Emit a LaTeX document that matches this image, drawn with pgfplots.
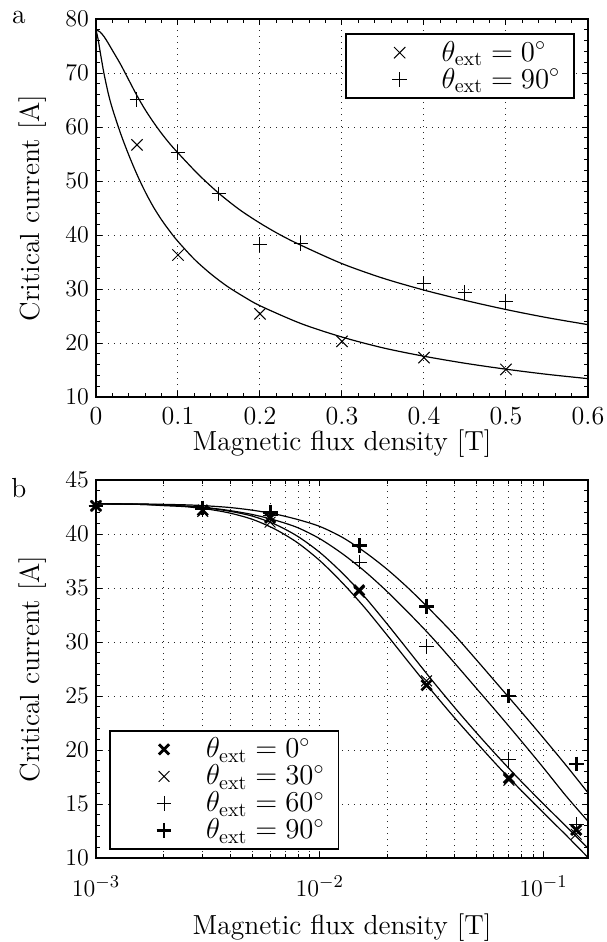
\documentclass[border=0pt]{standalone}
\usepackage{pgfplots}
\pgfplotsset{compat=1.18}
\pgfplotsset{
  common/.style={
    scale only axis, width=246pt, height=189pt,
    axis line style={line width=0.8pt},
    every tick/.style={black, line width=0.5pt},
    major tick length=3pt, minor tick length=2pt,
    grid style={black!85, line width=0.5pt, dash pattern=on 0.5pt off 2.5pt},
    minor grid style={black!85, line width=0.5pt, dash pattern=on 0.5pt off 2.5pt},
    clip mode=individual,
    label style={font=\fontsize{13.8}{16}\selectfont},
    legend cell align=left,
    legend style={draw=black, line width=0.8pt, inner xsep=4pt, inner ysep=2.5pt,
      font=\fontsize{14.3}{17}\selectfont,
      nodes={inner xsep=3pt, inner ysep=1pt}},
    legend image code/.code={%
      \pgfpathmoveto{\pgfqpoint{0pt}{0pt}}\pgfpathlineto{\pgfqpoint{41pt}{0pt}}\pgfusepath{discard}%
      \draw[##1, only marks] plot coordinates {(23pt,0pt)};},
  },
  fit/.style={no markers, smooth, black, line width=0.6pt, forget plot},
  mk/.style={only marks, black, mark options={solid, line width=#1}},
}
\begin{document}
\begin{tikzpicture}[font=\fontsize{13}{15.6}\selectfont]
\begin{axis}[common, at={(0,0)}, anchor=south west,
  xmin=0, xmax=0.6, ymin=10, ymax=80,
  xtick={0,0.1,0.2,0.3,0.4,0.5,0.6}, ytick={10,20,30,40,50,60,70,80},
  xticklabels={0,0.1,0.2,0.3,0.4,0.5,0.6},
  xticklabel style={yshift=-1.5pt},
  minor x tick num=4, minor y tick num=4,
  xmajorgrids, ymajorgrids,
  xlabel={Magnetic flux density [T]}, ylabel={Critical current [A]},
  xlabel style={at={(axis description cs:0.5,-0.122)}, anchor=center},
  ylabel style={at={(axis description cs:-0.129,0.5)}, anchor=center},
  legend style={at={(0.9736,0.962)}, anchor=north east},
]
\addplot[fit] coordinates {(0,78.0) (0.0025,76.3) (0.005,74.0) (0.0075,71.8) (0.01,69.7) (0.015,66.2) (0.02,63.4) (0.03,58.8) (0.04,54.8) (0.05,51.2) (0.06,48.0) (0.07,45.2) (0.08,42.8) (0.09,40.7) (0.1,38.8) (0.12,35.5) (0.14,32.8) (0.16,30.5) (0.18,28.6) (0.2,26.9) (0.25,23.6) (0.3,21.1) (0.35,19.1) (0.4,17.55) (0.45,16.25) (0.5,15.15) (0.55,14.2) (0.6,13.4)};
\addplot[fit] coordinates {(0,78.0) (0.005,77.6) (0.01,76.7) (0.015,75.5) (0.02,74.2) (0.03,71.6) (0.04,68.7) (0.05,65.8) (0.06,63.2) (0.07,60.9) (0.08,58.8) (0.09,56.9) (0.1,55.2) (0.125,51.2) (0.15,47.7) (0.175,44.7) (0.2,42.2) (0.225,40.0) (0.25,38.1) (0.3,34.7) (0.35,32.0) (0.4,29.8) (0.45,27.9) (0.5,26.2) (0.55,24.7) (0.6,23.4)};
\addplot[mk=0.5pt, mark=x, mark size=4pt] coordinates {(0.05,56.7) (0.1,36.3) (0.2,25.4) (0.3,20.3) (0.4,17.3) (0.5,15.1)};
\addlegendentry{$\theta_{\mathrm{ext}} = 0^\circ$}
\addplot[mk=0.5pt, mark=+, mark size=3.7pt] coordinates {(0.05,65.1) (0.1,55.3) (0.15,47.6) (0.2,38.3) (0.25,38.5) (0.4,31.0) (0.45,29.4) (0.5,27.7)};
\addlegendentry{$\theta_{\mathrm{ext}} = 90^\circ$}
\node[font=\fontsize{13.8}{16}\selectfont] at (rel axis cs:-0.1565,1.005) {a};
\end{axis}

\begin{axis}[common, at={(0,-230.5pt)}, anchor=south west,
  xmode=log, log basis x=10, xmin=1e-3, xmax=0.158, ymin=10, ymax=45,
  xtick={1e-3,1e-2,1e-1},
  minor xtick={2e-3,3e-3,4e-3,5e-3,6e-3,7e-3,8e-3,9e-3,2e-2,3e-2,4e-2,5e-2,6e-2,7e-2,8e-2,9e-2},
  xticklabel style={yshift=-5.5pt},
  ytick={10,15,20,25,30,35,40,45}, minor y tick num=4,
  xmajorgrids, xminorgrids, ymajorgrids,
  xlabel={Magnetic flux density [T]}, ylabel={Critical current [A]},
  xlabel style={at={(axis description cs:0.5,-0.184)}, anchor=center},
  ylabel style={at={(axis description cs:-0.129,0.5)}, anchor=center},
  legend style={at={(0.027,0.022)}, anchor=south west},
]
% 90 deg fit
\addplot[fit] coordinates {(0.001,42.80) (0.0015849,42.78) (0.0025119,42.70) (0.0031623,42.60) (0.0039811,42.45) (0.0050119,42.20) (0.0063096,41.85) (0.0079433,41.35) (0.01,40.70) (0.012589,39.70) (0.015849,38.35) (0.019953,36.75) (0.025119,34.90) (0.031623,32.85) (0.039811,30.70) (0.050119,28.35) (0.063096,25.95) (0.079433,23.55) (0.1,21.10) (0.12589,18.60) (0.158,16.04)};
% 60 deg fit
\addplot[fit] coordinates {(0.001,42.79) (0.0015849,42.74) (0.0025119,42.585) (0.0031623,42.425) (0.0039811,42.165) (0.0050119,41.80) (0.0063096,41.285) (0.0079433,40.60) (0.01,39.565) (0.012589,38.19) (0.015849,36.565) (0.019953,34.695) (0.025119,32.635) (0.031623,30.465) (0.039811,28.11) (0.050119,25.71) (0.063096,23.305) (0.079433,20.85) (0.1,18.34) (0.12589,15.76) (0.158,13.4)};
% 30 deg fit
\addplot[fit] coordinates {(0.001,42.8) (0.0015849,42.76) (0.0019953,42.7) (0.0025119,42.58) (0.0031623,42.4) (0.0039811,42.1) (0.0050119,41.65) (0.0063096,40.9) (0.0079433,39.8) (0.01,38.3) (0.012589,36.4) (0.015849,34.2) (0.019953,31.7) (0.025119,29.1) (0.031623,26.5) (0.039811,24.0) (0.050119,21.6) (0.063096,19.3) (0.079433,17.1) (0.1,15.0) (0.12589,12.95) (0.158,10.9)};
% 0 deg fit
\addplot[fit] coordinates {(0.001,42.8) (0.0015849,42.74) (0.0019953,42.63) (0.0025119,42.53) (0.0031623,42.3) (0.0039811,41.93) (0.0050119,41.35) (0.0063096,40.45) (0.0079433,39.2) (0.01,37.54) (0.012589,35.5) (0.015849,33.2) (0.019953,30.66) (0.025119,28.06) (0.031623,25.5) (0.039811,23.04) (0.050119,20.7) (0.063096,18.42) (0.079433,16.26) (0.1,14.18) (0.12589,12.13) (0.158,10.05)};
\addplot[mk=1.4pt, mark=x, mark size=3.6pt] coordinates {(0.001,42.6) (0.003,42.2) (0.006,41.5) (0.015,34.8) (0.03,26.0) (0.07,17.4) (0.14,12.6)};
\addlegendentry{$\theta_{\mathrm{ext}} = 0^\circ$}
\addplot[mk=0.5pt, mark=x, mark size=3.8pt] coordinates {(0.001,42.6) (0.003,42.1) (0.006,41.1) (0.015,34.6) (0.03,26.4) (0.07,17.2) (0.14,12.2)};
\addlegendentry{$\theta_{\mathrm{ext}} = 30^\circ$}
\addplot[mk=0.5pt, mark=+, mark size=3.7pt] coordinates {(0.001,42.6) (0.003,42.3) (0.006,41.7) (0.015,37.4) (0.03,29.6) (0.07,19.1) (0.14,13.1)};
\addlegendentry{$\theta_{\mathrm{ext}} = 60^\circ$}
\addplot[mk=1.4pt, mark=+, mark size=3.7pt] coordinates {(0.001,42.6) (0.003,42.4) (0.006,42.0) (0.015,38.9) (0.03,33.3) (0.07,25.0) (0.14,18.7)};
\addlegendentry{$\theta_{\mathrm{ext}} = 90^\circ$}
\node[font=\fontsize{13.8}{16}\selectfont] at (rel axis cs:-0.1565,0.98) {b};
\end{axis}
\pgfresetboundingbox
\path (-48pt,198.5pt) rectangle (255pt,-272.5pt);
\end{tikzpicture}
\end{document}
